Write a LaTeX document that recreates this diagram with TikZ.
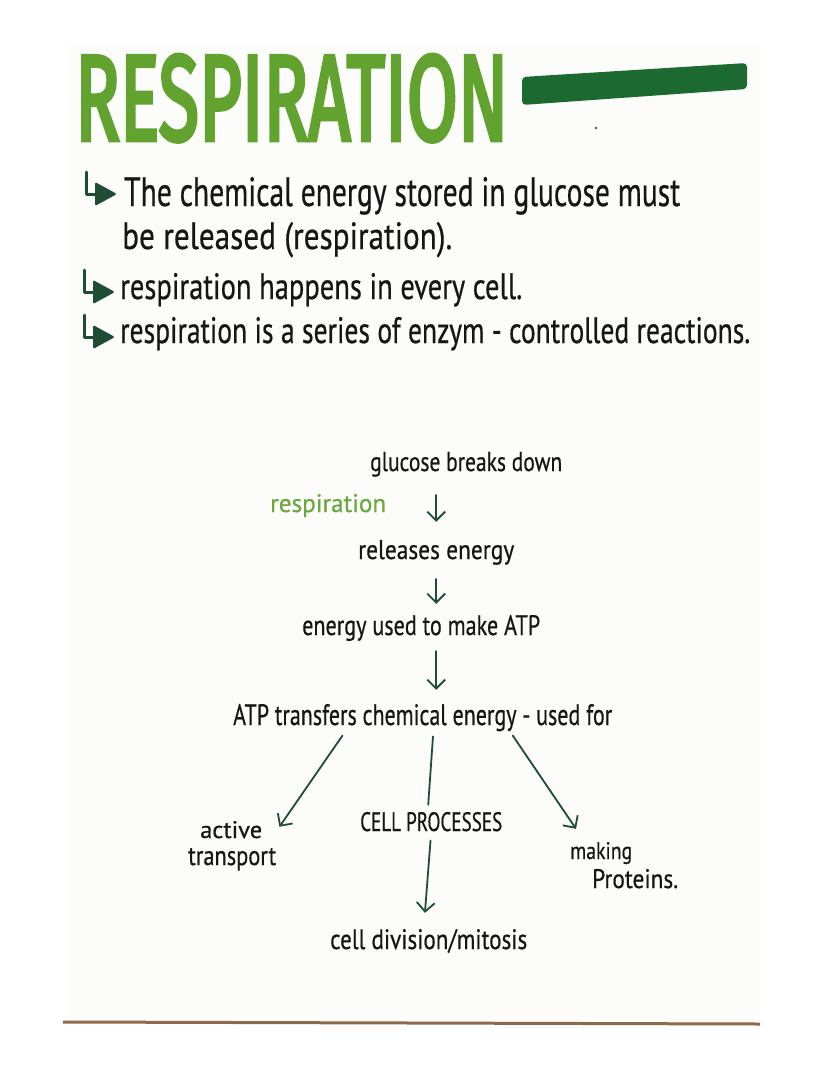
\documentclass[tikz,border=0pt]{standalone}
\usepackage{fontspec}
\setmainfont{PT Sans}[FakeBold=0.6]
\newfontfamily\titlefont[FakeBold=4]{Fira Sans}
\usetikzlibrary{arrows.meta,calc}
\definecolor{titlegreen}{HTML}{62A330}
\definecolor{bargreen}{HTML}{1C6A31}
\definecolor{inkgreen}{HTML}{1F4D33}
\definecolor{respgreen}{HTML}{6BA840}
\definecolor{ink}{HTML}{161616}
\definecolor{card}{HTML}{FCFCFB}
\definecolor{edge}{HTML}{8C6B4B}
\newcommand\hw[3]{\resizebox{#1pt}{#2pt}{#3}}
\begin{document}
\begin{tikzpicture}[x=1pt,y=-1pt,
  txt/.style={anchor=base west, inner sep=0pt, text=ink},
  arr/.style={draw=inkgreen, line width=1.8pt, line cap=round, -{Straight Barb[length=9pt,width=18pt]}},
  ln/.style={draw=inkgreen, line width=1.8pt, line cap=round},
  bul/.pic={\draw[inkgreen, line width=3pt, line cap=round, line join=round] (0,0)--(0,22)--(12,22);
            \fill[inkgreen, rounded corners=1.5pt] (9,10)--(31,22)--(9,34)--cycle;}]
\useasboundingbox (0,0) rectangle (828,1071);
\fill[white] (0,0) rectangle (828,1071);
% card
\fill[card] (66,44) rectangle (760,1023);
\draw[edge, line width=3pt] (63,1022) -- (760,1024);
% title
\node[txt, text=titlegreen] (title) at (75,140) {\hw{433}{85}{\titlefont RESPIRATION}};
\fill[bargreen, rounded corners=4pt] (522,77) -- (747,63) -- (747,89) -- (522,105) -- cycle;
\fill[ink] (596,128) circle (1.2);
% bullets
\pic at (86,172) {bul};
\pic at (84,270) {bul};
\pic at (84,315) {bul};
\node[txt] (l1) at (124,206) {\hw{556}{29}{The chemical energy stored in glucose must}};
\node[txt] (l2) at (122,249) {\hw{330}{27}{be released (respiration).}};
\node[txt] (l3) at (120,299) {\hw{402}{26}{respiration happens in every cell.}};
\node[txt] (l4) at (120,343) {\hw{630}{26}{respiration is a series of enzym - controlled reactions.}};
% flow
\node[txt] (glu) at (370,471) {\hw{192}{19}{glucose breaks down}};
\node[txt, text=respgreen] (resp) at (270,512) {\hw{116}{18}{respiration}};
\node[txt] (rel) at (358,559) {\hw{156}{19}{releases energy}};
\node[txt] (used) at (302,635) {\hw{238}{20}{energy used to make ATP}};
\node[txt] (atp) at (233,725) {\hw{379}{21}{ATP transfers chemical energy - used for}};
\node[txt] (cellp) at (360,831) {\hw{142}{19}{CELL PROCESSES}};
\node[txt] (act1) at (200,838) {\hw{62}{17}{active}};
\node[txt] (act2) at (188,865) {\hw{88}{17}{transport}};
\node[txt] (mak1) at (570,859) {\hw{62}{17}{making}};
\node[txt] (mak2) at (592,888) {\hw{86}{19}{Proteins.}};
\node[txt] (div) at (330,949) {\hw{197}{20}{cell division/mitosis}};
% connectors
\draw[arr, shorten <=18pt, shorten >=18pt] (glu.south -| rel.north) -- (rel.north);
\draw[arr, shorten <=14pt, shorten >=11pt] (rel.south) -- (rel.south |- used.north);
\draw[arr, shorten <=10pt, shorten >=14pt] (used.south -| rel.south) -- (atp.north -| rel.south);
\draw[arr, shorten <=5pt] ($(atp.south west)!0.296!(atp.south east)$) -- ($(act1.north east)+(17,6)$);
\draw[ln, shorten <=5pt] ($(atp.south west)!0.528!(atp.south east)$) -- ($(cellp.north)+(-3,-7)$);
\draw[arr, shorten <=9pt, shorten >=16pt] (cellp.south) -- ($(div.north)+(-5,0)$);
\draw[arr, shorten <=5pt] ($(atp.south west)!0.73!(atp.south east)$) -- ($(mak1.north west)+(6,-13)$);
\end{tikzpicture}
\end{document}
